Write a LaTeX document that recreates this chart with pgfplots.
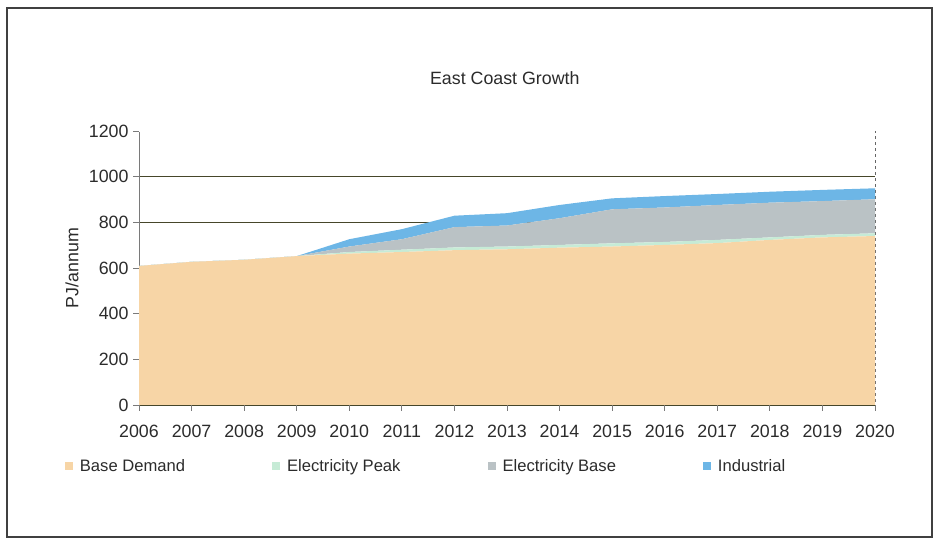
\documentclass[border=0pt]{standalone}
\usepackage{fontspec}
\setmainfont{Liberation Sans}
\usepackage{pgfplots}
\pgfplotsset{compat=1.18}
\definecolor{cBase}{HTML}{F7D5A6}
\definecolor{cPeak}{HTML}{C6EBD6}
\definecolor{cEBase}{HTML}{BAC2C5}
\definecolor{cInd}{HTML}{6DB6E6}
\definecolor{cGrid}{HTML}{46462A}
\definecolor{cAxis}{HTML}{7A7A7A}
\definecolor{cText}{HTML}{2B2B2B}
\begin{document}
\begin{tikzpicture}[x=1bp,y=1bp,font=\fontsize{17.8bp}{21bp}\selectfont]
\useasboundingbox (0,0) rectangle (935,539);
\draw[line width=1.3bp, black!75] (7,2) rectangle (932,531);
\begin{axis}[at={(139bp,134bp)}, anchor=south west, scale only axis,
  width=736bp, height=274bp, clip=false,
  xmin=2006, xmax=2020, ymin=0, ymax=1200,
  xtick={2006,2007,...,2020}, ytick={0,200,...,1200},
  /pgf/number format/1000 sep={}, /pgf/number format/assume math mode=true,
  tick label style={text=cText},
  xticklabel style={yshift=-11bp},
  yticklabel style={xshift=-1bp},
  axis line style={draw=none},
  xtick pos=bottom, ytick pos=left, tick align=outside,
  major tick length=6bp, tick style={draw=cAxis, line width=0.8bp},
  ymajorgrids, grid style={draw=cGrid, line width=0.9bp},
  stack plots=y,
  title={East Coast Growth},
  title style={at={(axis description cs:0.497,1.193)}, anchor=center, yshift=-6bp, text=cText},
  ylabel={PJ/annum},
  ylabel style={at={(axis description cs:-0.091,0.5)}, anchor=center, text=cText},
  legend columns=4,
  legend style={draw=none, fill=none, at={(axis description cs:-0.105,-0.2226)}, anchor=west,
    font=\fontsize{16.6bp}{20bp}\selectfont,
    /tikz/every even column/.append style={column sep=85bp}, text=cText},
  legend image code/.code={\fill[#1] (0bp,-4bp) rectangle (8bp,4bp); \path (13bp,0bp);},
]
\addplot[fill=cBase, draw=none] table {
x y
2006 609
2007 627
2008 636
2009 652
2010 663
2011 670
2012 678
2013 682
2014 689
2015 694
2016 701
2017 709
2018 723
2019 734
2020 740
} \closedcycle;
\addplot[fill=cPeak, draw=none] table {
x y
2006 0
2007 0
2008 0
2009 0
2010 7
2011 10
2012 12
2013 12
2014 12
2015 14
2016 13
2017 14
2018 11
2019 11
2020 12
} \closedcycle;
\addplot[fill=cEBase, draw=none] table {
x y
2006 0
2007 0
2008 0
2009 0
2010 24
2011 46
2012 89
2013 92
2014 117
2015 149
2016 151
2017 153
2018 152
2019 148
2020 149
} \closedcycle;
\addplot[fill=cInd, draw=none] table {
x y
2006 0
2007 0
2008 0
2009 0
2010 32
2011 44
2012 50
2013 54
2014 58
2015 48
2016 50
2017 48
2018 48
2019 49
2020 48
} \closedcycle;
\legend{Base Demand, Electricity Peak, Electricity Base, Industrial}
\draw[white, line width=1.2bp] (rel axis cs:0,1) -- (rel axis cs:1,1);
\draw[black!60, dashed, line width=0.8bp] (rel axis cs:0,1) -- (rel axis cs:1,1) -- (rel axis cs:1,0);
\draw[cAxis, line width=1bp] (rel axis cs:0,1) -- (rel axis cs:0,0) -- (rel axis cs:1,0);
\end{axis}
\end{tikzpicture}
\end{document}
